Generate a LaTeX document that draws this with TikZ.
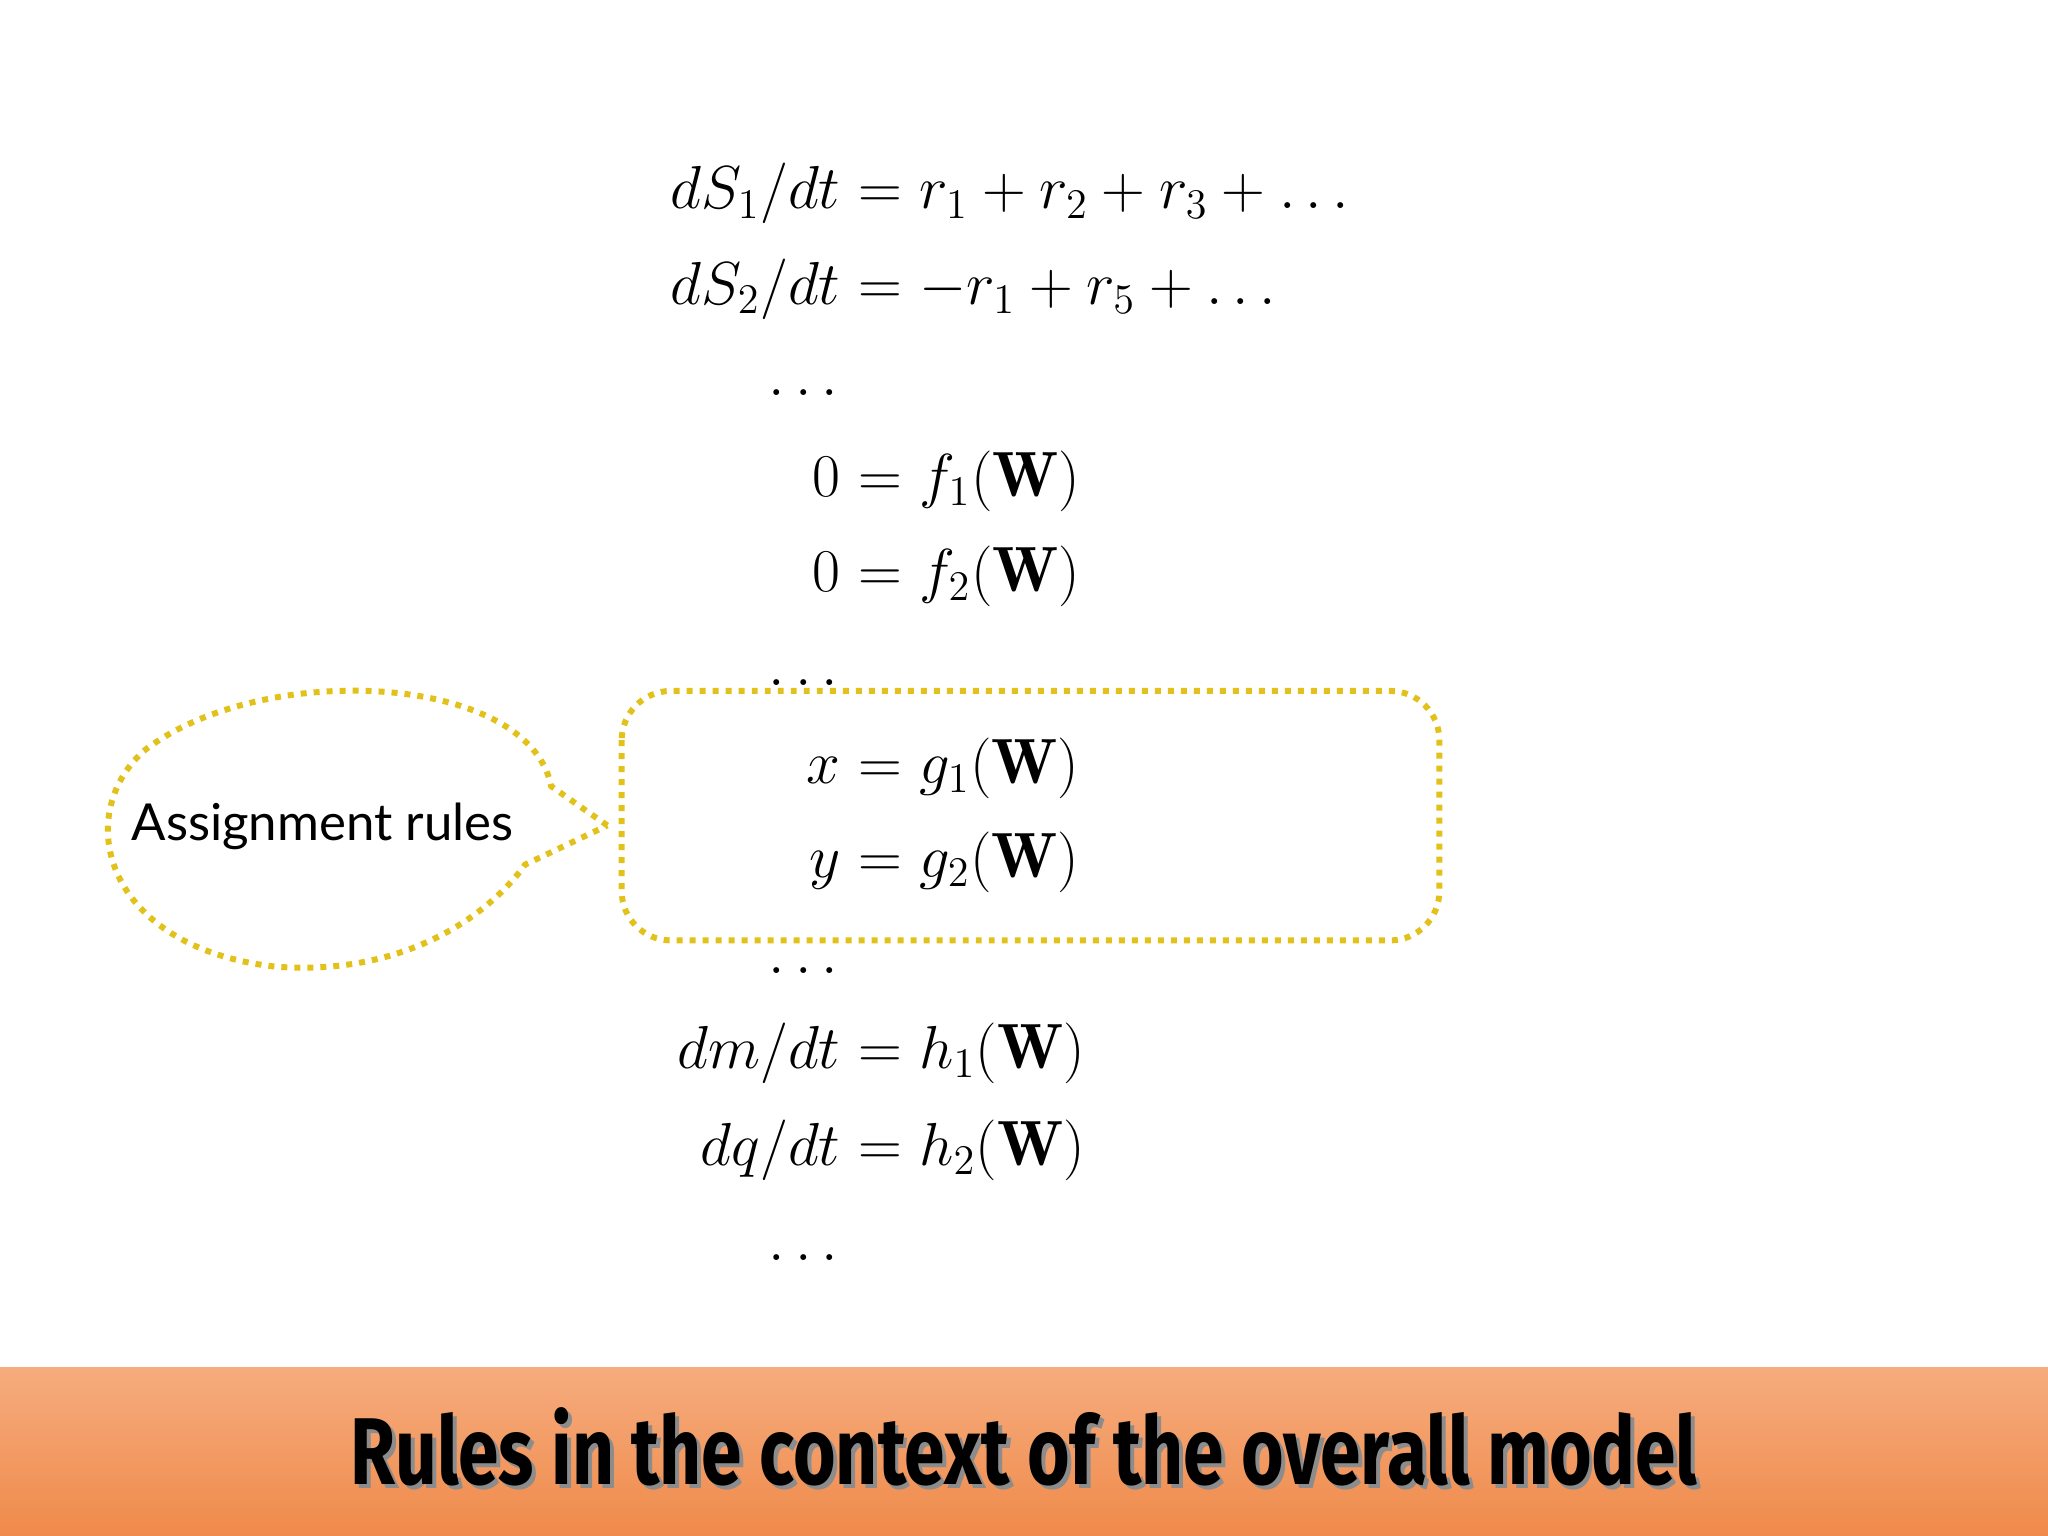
\documentclass[tikz,border=0pt]{standalone}
\usepackage{fontspec}
\usepackage{amsmath}
\setsansfont{Lato}
\newfontfamily\titlefont{Fira Sans}
\definecolor{ygold}{HTML}{E2C21A}
\definecolor{otop}{HTML}{F6AC7E}
\definecolor{obot}{HTML}{EF8A4A}
\tikzset{
  lhs/.style={anchor=base east,inner sep=0pt,font=\fontsize{18.2}{22}\selectfont},
  rhs/.style={anchor=base west,inner sep=0pt,font=\fontsize{18.2}{22}\selectfont},
  yellowdot/.style={draw=ygold,line width=1.7pt,dotted}
}
\begin{document}
\begin{tikzpicture}[x=0.01306cm,y=-0.01306cm]
\useasboundingbox (0,0) rectangle (1568,1176);
\fill[white] (0,0) rectangle (1568,1176);
\shade[top color=otop,bottom color=obot] (0,1047) rectangle (1568,1176);
\node[font=\titlefont\bfseries\fontsize{27}{30}\selectfont,text=black!45,inner sep=0pt] (titleshadow) at (787,1111) {\scalebox{0.77}[1]{Rules in the context of the overall model}};
\node[font=\titlefont\bfseries\fontsize{27}{30}\selectfont,inner sep=0pt] (title) at (784,1108) {\scalebox{0.77}[1]{Rules in the context of the overall model}};
% equations
\node[lhs] (l1) at (644,160) {$dS_1/dt$};
\node[rhs] (r1) at (644,160) {${}= r_1 + r_2 + r_3 + \ldots$};
\node[lhs] (l2) at (644,233) {$dS_2/dt$};
\node[rhs] (r2) at (644,233) {${}= -r_1 + r_5 + \ldots$};
\node[rhs] (d1) at (588,303) {$\ldots$};
\node[lhs] (l3) at (644,380) {$0$};
\node[rhs] (r3) at (644,380) {${}= f_1(\mathbf{W})$};
\node[lhs] (l4) at (644,453) {$0$};
\node[rhs] (r4) at (644,453) {${}= f_2(\mathbf{W})$};
\node[rhs] (d2) at (588,525) {$\ldots$};
\node[lhs] (l5) at (644,600) {$x$};
\node[rhs] (r5) at (644,600) {${}= g_1(\mathbf{W})$};
\node[lhs] (l6) at (644,672) {$y$};
\node[rhs] (r6) at (644,672) {${}= g_2(\mathbf{W})$};
\node[rhs] (d3) at (588,745) {$\ldots$};
\node[lhs] (l7) at (644,818) {$dm/dt$};
\node[rhs] (r7) at (644,818) {${}= h_1(\mathbf{W})$};
\node[lhs] (l8) at (644,892) {$dq/dt$};
\node[rhs] (r8) at (644,892) {${}= h_2(\mathbf{W})$};
\node[rhs] (d4) at (588,965) {$\ldots$};
% box
\draw[yellowdot,rounded corners=14pt] (476,529) rectangle (1102,720);
% callout
\draw[yellowdot] (465,632) -- (422,602) .. controls (405,515) and (200,505) .. (110,575)
  .. controls (55,625) and (80,725) .. (210,740)
  .. controls (310,748) and (375,700) .. (402,662) -- cycle;
\node[font=\sffamily\fontsize{14.5}{17}\selectfont,inner sep=0pt] (lab) at (247,633) {Assignment rules};
\end{tikzpicture}
\end{document}
